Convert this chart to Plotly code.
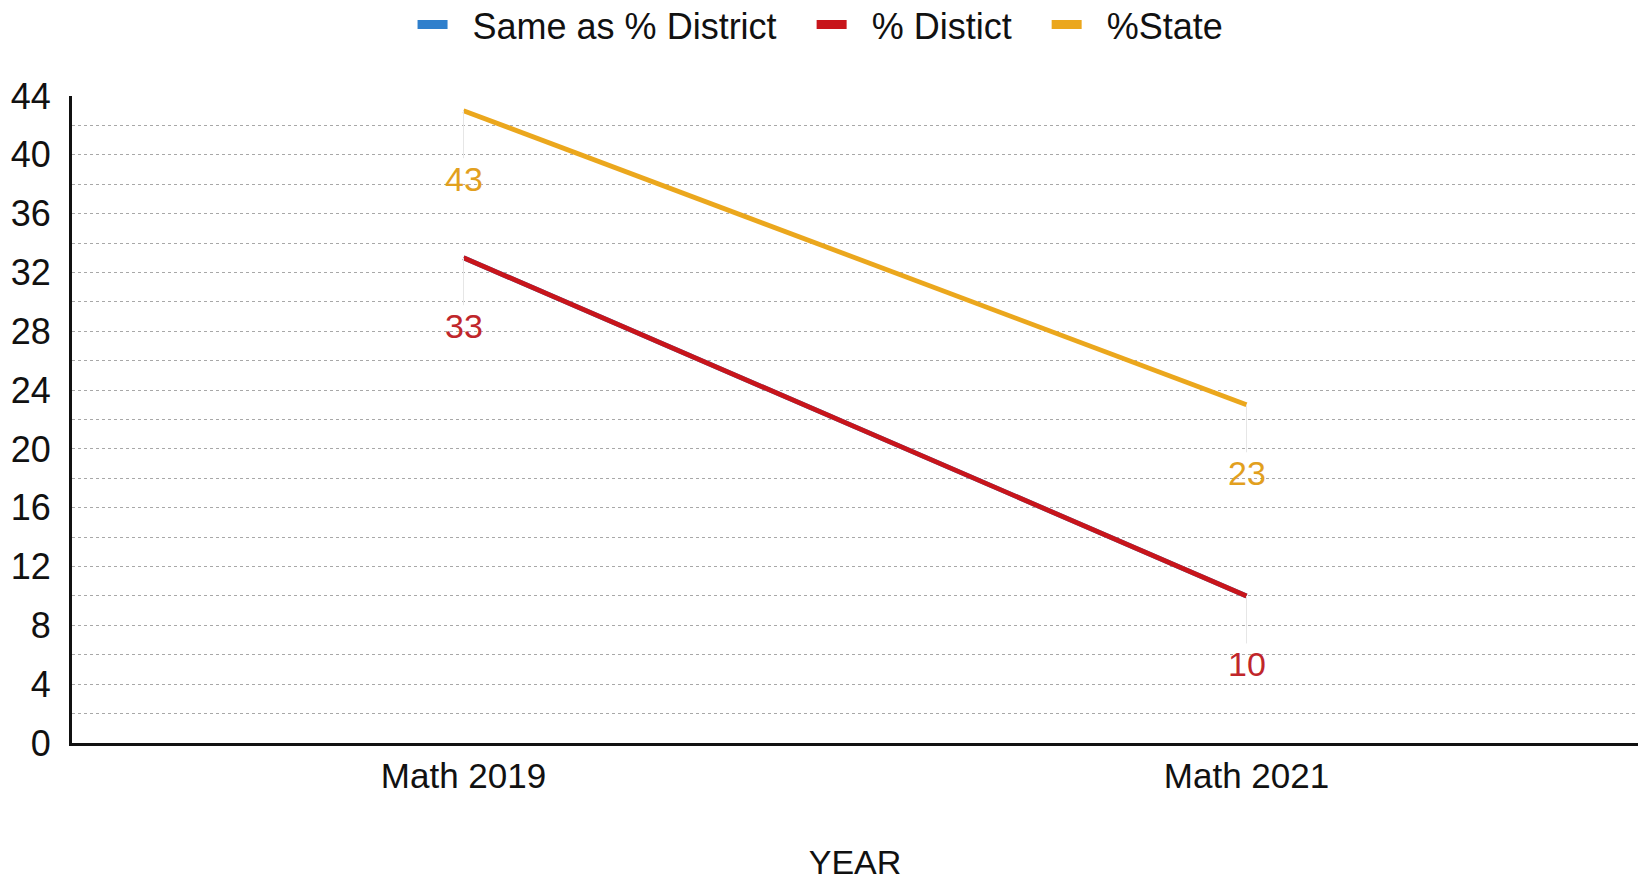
import plotly.graph_objects as go

categories = ["Math 2019", "Math 2021"]
same_as_district = [33, 10]
district = [33, 10]
state = [43, 23]
series_names = ["Same as % District", "% Distict", "%State"]
y_ticks = [0, 4, 8, 12, 16, 20, 24, 28, 32, 36, 40, 44]

colors = ["#2f7fcc", "#c8151b", "#eba71d"]
label_colors = ["#2f7fcc", "#c0262b", "#e2a01e"]
FONT = "Liberation Sans"
NB = "\u00a0"

fig = go.Figure()
series = [same_as_district, district, state]
for name, vals, c in zip(series_names, series, colors):
    fig.add_trace(go.Scatter(x=categories, y=vals, mode="lines", name=name,
                             line=dict(color=c, width=4.8), showlegend=False,
                             hoverinfo="x+y"))
for i, (name, c) in enumerate(zip(series_names, colors)):
    trail = NB * 3 if i < len(series_names) - 1 else ""
    fig.add_trace(go.Scatter(x=[None], y=[None], mode="lines",
                             name=NB * 2 + name + trail,
                             line=dict(color=c, width=9), showlegend=True))

annotations = []
for vals, c in [(district, label_colors[1]), (state, label_colors[2])]:
    for cat, v in zip(categories, vals):
        annotations.append(dict(x=cat, y=v, xref="x", yref="y", text=str(v),
                                showarrow=True, arrowhead=0, arrowwidth=1,
                                arrowcolor="#e6e6e6", ax=0, ay=68,
                                font=dict(family=FONT, size=34, color=c)))

fig.update_layout(
    width=1638, height=881,
    margin=dict(l=72, r=0, t=96, b=138, autoexpand=False),
    paper_bgcolor="white", plot_bgcolor="white",
    font=dict(family=FONT, size=35, color="#111111"),
    legend=dict(orientation="h", x=0.478, xanchor="center",
                yref="container", y=0.972, yanchor="middle",
                font=dict(family=FONT, size=36, color="#111111"),
                tracegroupgap=0),
    annotations=annotations,
    showlegend=True,
)
fig.update_xaxes(type="category", range=[-0.5, 1.5], showline=True, linecolor="#111111",
                 linewidth=3, showgrid=False, ticks="", ticklabelstandoff=0,
                 tickfont=dict(family=FONT, size=35, color="#111111"),
                 title=dict(text="YEAR", standoff=59,
                            font=dict(family=FONT, size=34, color="#111111")),
                 zeroline=False)
fig.update_yaxes(range=[0, 44], tickvals=y_ticks, showline=True, linecolor="#111111",
                 linewidth=3, showgrid=True, gridcolor="#a8a8a8", gridwidth=1,
                 griddash="dot", ticks="", ticklabelstandoff=11,
                 tickfont=dict(family=FONT, size=36, color="#111111"),
                 minor=dict(dtick=2, showgrid=True, gridcolor="#a8a8a8", gridwidth=1,
                            griddash="dot"),
                 zeroline=False)

fig.write_html("out.html")
